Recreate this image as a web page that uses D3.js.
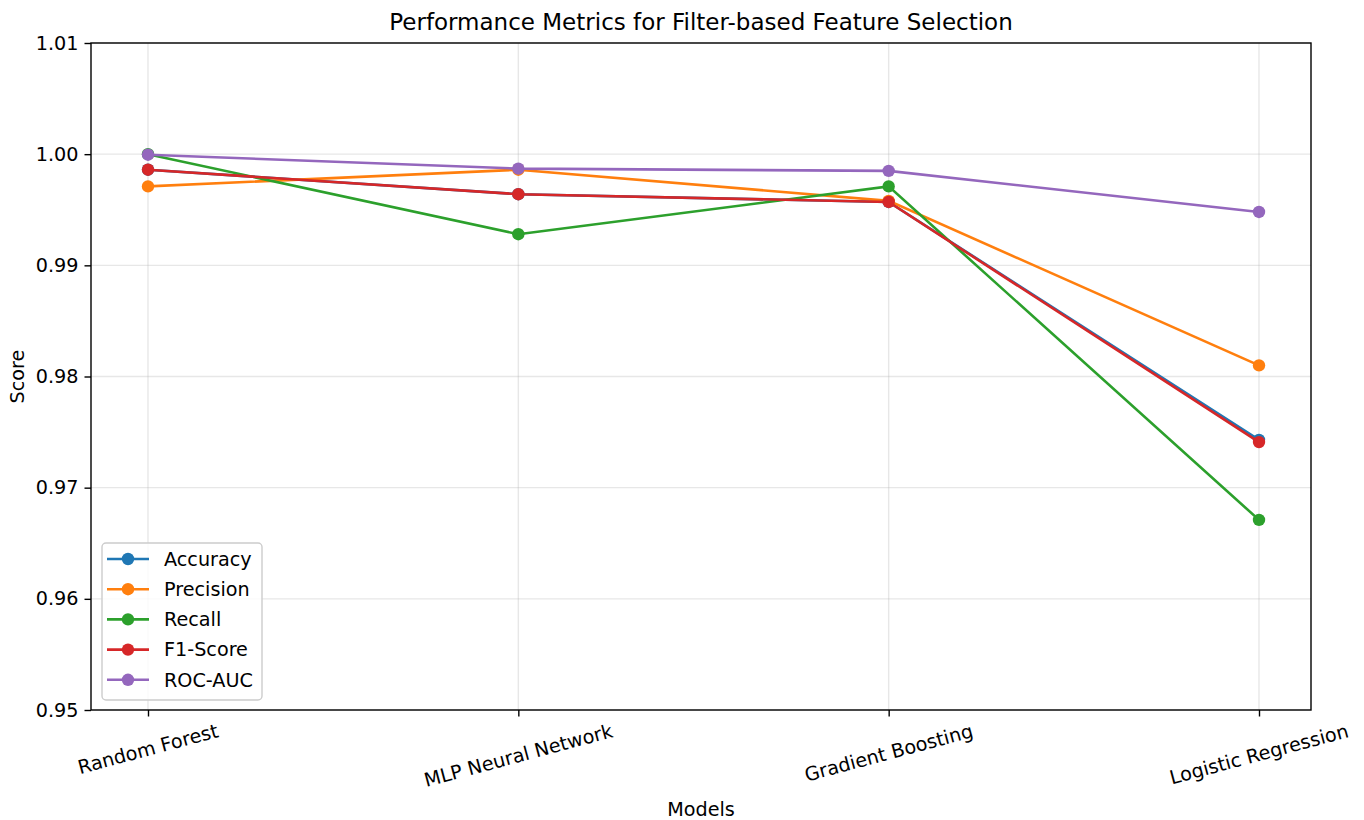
<!DOCTYPE html>
<html>
<head>
<meta charset="utf-8">
<script src="https://cdn.jsdelivr.net/npm/d3@7"></script>
<style>
  body { margin: 0; background: #fff; }
  text { font-family: "DejaVu Sans", sans-serif; fill: #000; }
</style>
</head>
<body>
<div id="chart"></div>
<script>
// chart data
const models = ["Random Forest", "MLP Neural Network", "Gradient Boosting", "Logistic Regression"]
const metricNames = ["Accuracy", "Precision", "Recall", "F1-Score", "ROC-AUC"]
const accuracy = [0.9986, 0.9964, 0.9957, 0.9743]
const precision = [0.9971, 0.9986, 0.9958, 0.9810]
const recall = [1.0000, 0.9928, 0.9971, 0.9671]
const f1Score = [0.9986, 0.9964, 0.9957, 0.9741]
const rocAuc = [0.99995, 0.9987, 0.9985, 0.9948]
const yTicks = [0.95, 0.96, 0.97, 0.98, 0.99, 1.00, 1.01]

const colors = ["#1f77b4", "#ff7f0e", "#2ca02c", "#d62728", "#9467bd"]
const series = [accuracy, precision, recall, f1Score, rocAuc].map((vals, i) => ({
    name: metricNames[i], color: colors[i], values: vals
}))

const W = 1364, H = 820
const margin = { left: 91, right: 53, top: 43, bottom: 110 }
const fs = 19.2

let svg = d3.select("#chart")
            .append("svg")
                .attr("width", W)
                .attr("height", H)

let x = d3.scalePoint()
            .domain(models)
            .range([148, 1259])
let y = d3.scaleLinear()
            .domain([0.95, 1.01])
            .range([H - margin.bottom, margin.top])

let plotL = margin.left, plotR = W - margin.right
let plotT = margin.top, plotB = H - margin.bottom

// grid
svg.append("g")
    .selectAll("line")
    .data(yTicks)
    .enter().append("line")
        .attr("x1", plotL).attr("x2", plotR)
        .attr("y1", d => y(d)).attr("y2", d => y(d))
        .attr("stroke", "#b0b0b0").attr("stroke-opacity", 0.3).attr("stroke-width", 1.4)
svg.append("g")
    .selectAll("line")
    .data(models)
    .enter().append("line")
        .attr("x1", d => x(d)).attr("x2", d => x(d))
        .attr("y1", plotT).attr("y2", plotB)
        .attr("stroke", "#b0b0b0").attr("stroke-opacity", 0.3).attr("stroke-width", 1.4)

// lines + markers
let line = d3.line()
                .x((d, i) => x(models[i]))
                .y(d => y(d))

series.forEach(s => {
    svg.append("path")
        .datum(s.values)
        .attr("d", line)
        .attr("fill", "none")
        .attr("stroke", s.color)
        .attr("stroke-width", 2.6)
    svg.append("g")
        .selectAll("circle")
        .data(s.values)
        .enter().append("circle")
            .attr("cx", (d, i) => x(models[i]))
            .attr("cy", d => y(d))
            .attr("r", 6.2)
            .attr("fill", s.color)
})

// frame
svg.append("rect")
    .attr("x", plotL).attr("y", plotT)
    .attr("width", plotR - plotL).attr("height", plotB - plotT)
    .attr("fill", "none").attr("stroke", "#000").attr("stroke-width", 1.4)

// y axis
let yAxis = svg.append("g")
                .attr("transform", `translate(${plotL},0)`)
                .call(d3.axisLeft(y).tickValues(yTicks).tickFormat(d3.format(".2f")).tickSize(6.5).tickPadding(6))
yAxis.select(".domain").remove()
yAxis.selectAll("line").attr("stroke-width", 1.4)
yAxis.selectAll("text").style("font-size", fs + "px").style("font-family", "DejaVu Sans").style("fill", "#000")

// x axis
let xAxis = svg.append("g")
                .attr("transform", `translate(0,${plotB})`)
                .call(d3.axisBottom(x).tickSize(6.5).tickFormat(""))
xAxis.select(".domain").remove()
xAxis.selectAll("line").attr("stroke-width", 1.4)

// rotated tick labels: center the rotated box under each tick
const rot = 15 * Math.PI / 180
let xLabels = svg.append("g")
    .selectAll("text")
    .data(models)
    .enter().append("text")
        .attr("text-anchor", "middle")
        .attr("dy", "0.35em")
        .style("font-size", fs + "px")
        .text(d => d)
xLabels.each(function(d) {
    let w = this.getComputedTextLength()
    let h = fs * 1.16
    let boxH = w * Math.sin(rot) + h * Math.cos(rot)
    let cy = plotB + 6.5 + 3 + boxH / 2
    d3.select(this).attr("transform", `translate(${x(d)},${cy}) rotate(-15)`)
})

// titles
svg.append("text")
    .attr("x", (plotL + plotR) / 2).attr("y", 30)
    .attr("text-anchor", "middle")
    .style("font-size", "23px")
    .text("Performance Metrics for Filter-based Feature Selection")
svg.append("text")
    .attr("x", (plotL + plotR) / 2).attr("y", 816)
    .attr("text-anchor", "middle")
    .style("font-size", fs + "px")
    .text("Models")
svg.append("text")
    .attr("transform", `translate(24,${(plotT + plotB) / 2}) rotate(-90)`)
    .attr("text-anchor", "middle")
    .style("font-size", fs + "px")
    .text("Score")

// legend
let legend = svg.append("g").attr("transform", "translate(102,543)")
legend.append("rect")
    .attr("width", 160).attr("height", 157)
    .attr("rx", 4)
    .attr("fill", "#fff").attr("fill-opacity", 0.8)
    .attr("stroke", "#cccccc").attr("stroke-width", 1.4)
let items = legend.selectAll("g.item")
                .data(series)
                .enter().append("g")
                    .attr("transform", (d, i) => `translate(0,${16 + i * 30.2})`)
items.append("line")
    .attr("x1", 5).attr("x2", 47)
    .attr("stroke", d => d.color).attr("stroke-width", 2.6)
items.append("circle")
    .attr("cx", 26).attr("r", 6.2)
    .attr("fill", d => d.color)
items.append("text")
    .attr("x", 62).attr("dy", "0.35em")
    .style("font-size", fs + "px")
    .text(d => d.name)
</script>
</body>
</html>
